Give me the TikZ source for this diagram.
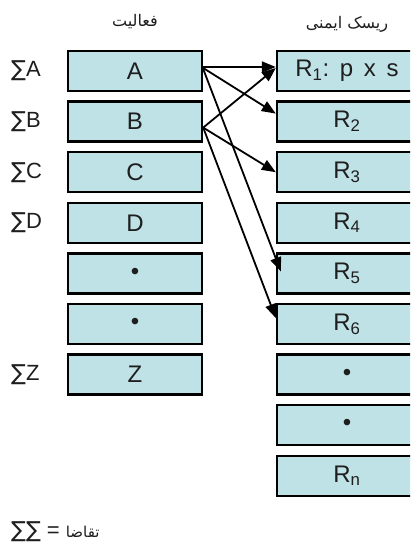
\documentclass[tikz,border=0pt]{standalone}
\usepackage{fontspec}
\setmainfont{Liberation Sans}
\newfontfamily\arabicfont[Script=Arabic]{DejaVu Sans}
\newfontfamily\symfont{DejaVu Sans}
\newcommand{\sumsign}{{\symfont ∑}}
\TeXXeTstate=1
\usetikzlibrary{arrows.meta}
\definecolor{boxfill}{RGB}{191,226,231}
\definecolor{ink}{RGB}{30,30,30}
\begin{document}
\begin{tikzpicture}[x=1pt,y=-1pt,
  cell/.style={draw=black, line width=2.4pt, fill=boxfill, minimum height=40pt,
    inner sep=0pt, font=\fontsize{24}{26}\selectfont, text=ink},
  actbox/.style={cell, minimum width=134pt},
  riskbox/.style={cell, minimum width=140pt},
  link/.style={line width=1.8pt, -{Triangle[length=14pt,width=11pt]}},
  sumlbl/.style={anchor=west, inner sep=0pt, font=\fontsize{22}{25}\selectfont, text=ink},
  head/.style={inner sep=0pt, font=\arabicfont\fontsize{16}{18}\selectfont, text=ink}]
\useasboundingbox (0,0) rectangle (410,551);
\fill[white] (0,0) rectangle (410,551);
\begin{scope}
\clip (0,0) rectangle (410,551);

% column headings
\node[head] (hact) at (135,22) {\beginR فعالیت\endR};
\node[head] (hrisk) at (347,24) {\beginR ریسک ایمنی\endR};

% activities
\node[actbox] (A)  at (135,71)    {A};
\node[actbox] (B)  at (135,121.6) {B};
\node[actbox] (C)  at (135,172.2) {C};
\node[actbox] (D)  at (135,222.8) {D};
\node[actbox] (d1) at (135,273.4) {•};
\node[actbox] (d2) at (135,324)   {•};
\node[actbox] (Z)  at (135,374.6) {Z};

% sums per activity
\node[sumlbl] (sA) at (11,71)    {\sumsign A};
\node[sumlbl] (sB) at (11,121.6) {\sumsign B};
\node[sumlbl] (sC) at (11,172.2) {\sumsign C};
\node[sumlbl] (sD) at (11,222.8) {\sumsign D};
\node[sumlbl] (sZ) at (11,374.6) {\sumsign Z};

% safety risks
\node[riskbox] (R1) at (347,71)    {R\textsubscript{1}:\ \,p\ \,x\ \,s};
\node[riskbox] (R2) at (347,121.6) {R\textsubscript{2}};
\node[riskbox] (R3) at (347,172.2) {R\textsubscript{3}};
\node[riskbox] (R4) at (347,222.8) {R\textsubscript{4}};
\node[riskbox] (R5) at (347,273.4) {R\textsubscript{5}};
\node[riskbox] (R6) at (347,324)   {R\textsubscript{6}};
\node[riskbox] (r7) at (347,374.6) {•};
\node[riskbox] (r8) at (347,425.2) {•};
\node[riskbox] (Rn) at (347,475.8) {R\textsubscript{n}};

% activity -> risk links
\draw[link] ([yshift=4pt]A.east) -- ([yshift=4pt]R1.west);
\draw[link] ([yshift=3pt]A.east) -- ([yshift=8pt]R2.west);
\draw[link] ([yshift=2pt]A.east) -- ([xshift=5pt,yshift=2pt]R5.west);
\draw[link] ([yshift=-6pt]B.east) -- ([yshift=3pt]R1.west);
\draw[link] ([yshift=-6pt]B.east) -- (R3.west);
\draw[link] ([yshift=-6pt]B.east) -- ([yshift=6pt]R6.west);

% total demand
\node[anchor=west, inner sep=0pt, font=\fontsize{22}{25}\selectfont, text=ink] (total) at (11,532)
  {\sumsign\sumsign\ = {\arabicfont\fontsize{15}{17}\selectfont\beginR تقاضا\endR}};
\end{scope}
\end{tikzpicture}
\end{document}
